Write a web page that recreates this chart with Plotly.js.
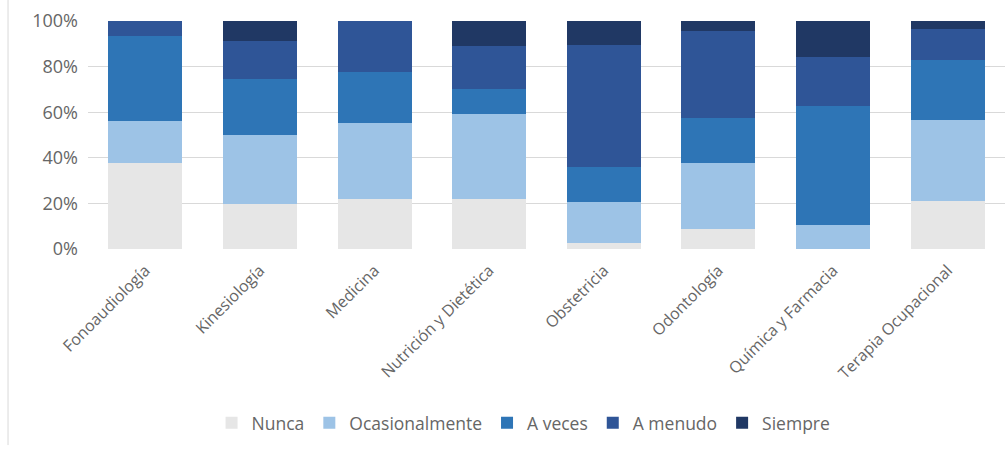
<!DOCTYPE html>
<html>
<head>
<meta charset="utf-8">
<script src="https://cdn.plot.ly/plotly-3.0.1.min.js"></script>
<style>
html,body{margin:0;padding:0;background:#fff;}
#chart{width:1008px;height:452px;}
</style>
</head>
<body>
<div id="chart"></div>
<script>
var categories = ["Fonoaudiología", "Kinesiología", "Medicina", "Nutrición y Dietética", "Obstetricia", "Odontología", "Química y Farmacia", "Terapia Ocupacional"];
var seriesNames = ["Nunca", "Ocasionalmente", "A veces", "A menudo", "Siempre"];
var nunca          = [37.6, 19.6, 21.8, 21.8,  2.5,  8.9,  0.0, 20.9];
var ocasionalmente = [18.7, 30.4, 33.6, 37.4, 18.0, 28.8, 10.4, 35.5];
var aVeces         = [37.1, 24.7, 22.4, 11.0, 15.3, 19.9, 52.5, 26.5];
var aMenudo        = [ 6.6, 16.5, 22.2, 18.7, 53.8, 38.0, 21.4, 13.5];
var siempre        = [ 0.0,  8.8,  0.0, 11.1, 10.4,  4.4, 15.7,  3.6];
var colors = ["#e6e6e6", "#9dc3e6", "#2e75b6", "#2f5597", "#203864"];

var allSeries = [nunca, ocasionalmente, aVeces, aMenudo, siempre];
var traces = allSeries.map(function (vals, i) {
  return {
    type: "bar",
    name: seriesNames[i],
    x: categories,
    y: vals.map(function (v) { return v / 100; }),
    marker: { color: colors[i], line: { width: 0 } },
    hoverinfo: "x+y+name"
  };
});

var font = { family: "'Open Sans', 'Segoe UI', sans-serif", color: "#666666" };

var layout = {
  width: 1008,
  height: 452,
  barmode: "stack",
  bargap: 0.355,
  paper_bgcolor: "#ffffff",
  plot_bgcolor: "#ffffff",
  margin: { l: 88, r: 3, t: 21, b: 203 },
  font: font,
  showlegend: true,
  legend: {
    orientation: "h",
    x: 0.475, xanchor: "center",
    y: -0.763, yanchor: "middle",
    traceorder: "normal",
    font: { family: font.family, size: 17.5, color: "#666666" },
    itemsizing: "constant"
  },
  xaxis: {
    type: "category",
    tickangle: -45,
    tickfont: { family: font.family, size: 16, color: "#666666" },
    showgrid: false,
    zeroline: false,
    showline: false,
    ticks: "",
    ticklabelstandoff: 8
  },
  yaxis: {
    range: [0, 1],
    tickvals: [0, 0.2, 0.4, 0.6, 0.8, 1.0],
    tickformat: ".0%",
    tickfont: { family: font.family, size: 18, color: "#666666" },
    showgrid: true,
    gridcolor: "#d9d9d9",
    gridwidth: 1,
    zeroline: false,
    showline: false,
    ticks: "",
    ticklabelstandoff: 9
  },
  shapes: [{
    type: "line",
    xref: "paper", yref: "paper",
    x0: -0.0872, x1: -0.0872,
    y0: 1.092, y1: -0.86,
    line: { color: "#d9d9d9", width: 1 }
  }]
};

Plotly.newPlot("chart", traces, layout, { displayModeBar: false, staticPlot: true });
</script>
</body>
</html>
